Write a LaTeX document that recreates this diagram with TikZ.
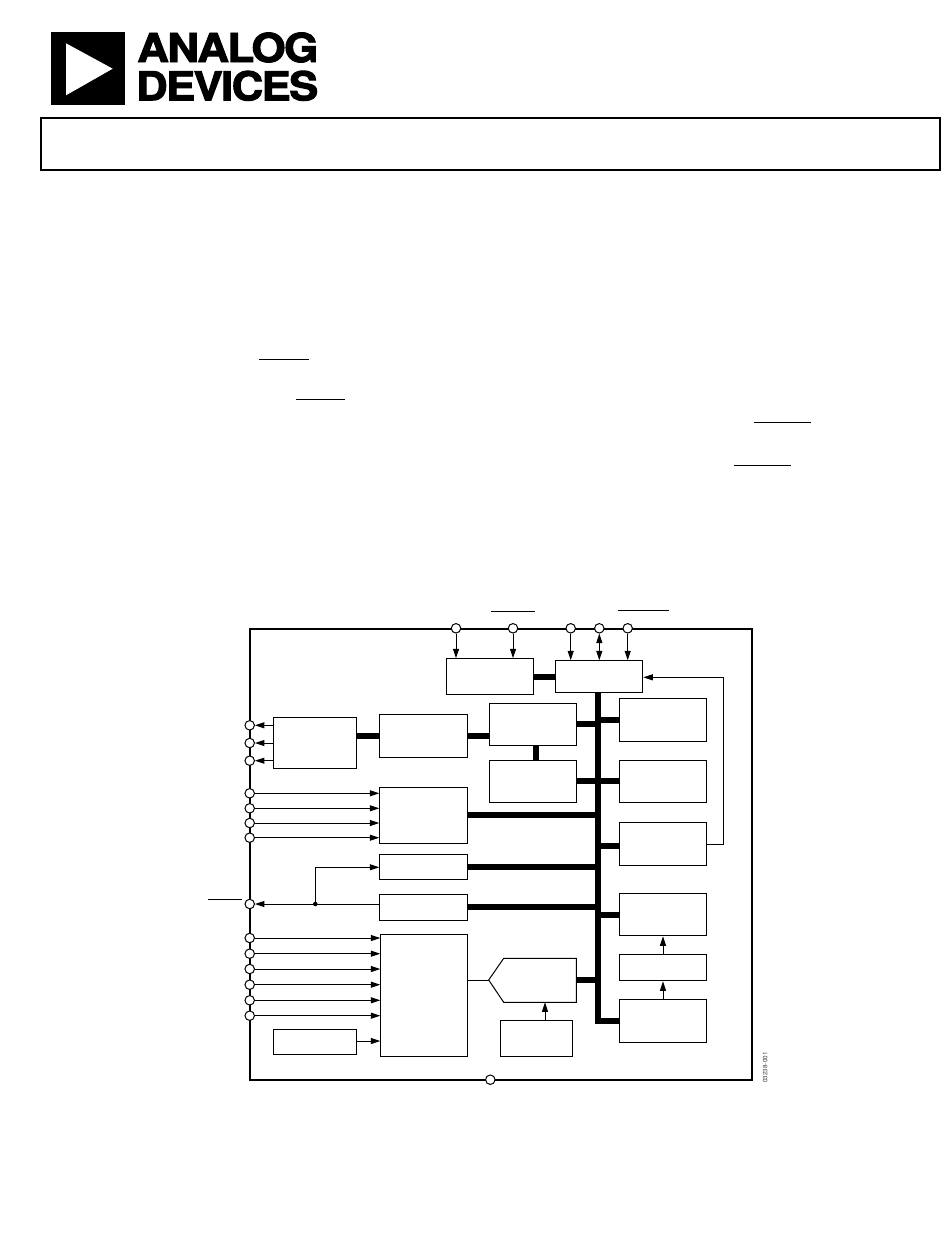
\documentclass[tikz,border=0pt]{standalone}
\usepackage{fontspec}
\setmainfont{TeX Gyre Heros}
\newfontfamily\logofont{TeX Gyre Heros}[BoldFeatures={FakeBold=2.4,LetterSpace=-3.5}]
\usetikzlibrary{arrows.meta}
\tikzset{
  x=1pt,y=-1pt,
  blk/.style={draw=black,line width=1pt,fill=white},
  bus/.style={draw=black,line width=6pt},
  frame/.style={draw=black,line width=2pt},
  sig/.style={draw=black,line width=1pt,-{Triangle[length=9.5pt,width=6pt]}},
  sigtwo/.style={draw=black,line width=1pt,{Triangle[length=9.5pt,width=6pt]}-{Triangle[length=9.5pt,width=6pt]}},
  plain/.style={draw=black,line width=1pt},
  pin/.style={circle,draw=black,line width=1pt,fill=white,minimum size=9.5pt,inner sep=0pt},
  bar/.style={draw=black,line width=1.1pt},
  logotext/.style={anchor=base west,inner sep=0pt,font=\fontsize{40}{40}\logofont\bfseries},
  rect/.style={rectangle,blk,inner sep=0pt,anchor=north west},
}
\newcommand{\blockat}[5]{\node[rect,minimum width=#4-#2,minimum height=#5-#3] (#1) at (#2,#3) {};}
\begin{document}
\begin{tikzpicture}
\useasboundingbox (0,0) rectangle (950,1254);
\fill[white] (0,0) rectangle (950,1254);
% logo
\fill[black] (50.7,31.7) rectangle (125,105);
\fill[white] (66,43.3) -- (112.7,68.7) -- (66,95.3) -- cycle;
\node[logotext] (lgA) at (137,62) {\resizebox{181pt}{29.5pt}{ANALOG}};
\node[logotext] (lgD) at (136,100.3) {\resizebox{182pt}{29.5pt}{DEVICES}};
% title frame
\draw[frame] (41,117.7) rectangle (940,170);
% overlines
\draw[bar] (259,359.3) -- (309,359.3);
\draw[bar] (295.7,399.3) -- (345.3,399.3);
\draw[bar] (754.3,422.3) -- (811,422.3);
\draw[bar] (734,465.3) -- (790.7,465.3);
\draw[bar] (491,611.3) -- (535,611.3);
\draw[bar] (618,610.3) -- (669.3,610.3);
\draw[bar] (208.3,899.3) -- (241.7,899.3);
% chip outline
\draw[frame] (250,629) rectangle (752,1079.7);
% thick buses under the boxes
\draw[bus] (598,690) -- (598,1020.7) -- (620,1020.7);
% blocks
\blockat{drv}{273.3}{717.3}{356.3}{768.3}
\blockat{tbl}{379.3}{714.3}{467.3}{757.3}
\blockat{muxa}{379.3}{787.3}{467.3}{843.3}
\blockat{regd}{379.3}{854.3}{467.3}{879.3}
\blockat{rege}{379.3}{894.3}{467.3}{920.3}
\blockat{muxf}{380.3}{934.3}{467.3}{1056.3}
\blockat{refg}{273.3}{1029.3}{356.3}{1054.3}
\blockat{toph}{446.3}{658.3}{533.3}{694.3}
\blockat{topi}{555.3}{660.3}{642.3}{692.3}
\blockat{blj}{489.3}{703.3}{576.3}{745.3}
\blockat{blk}{489.3}{760.3}{576.3}{802.3}
\blockat{ril}{619.3}{698.3}{706.3}{741.3}
\blockat{rim}{619.3}{760.3}{706.3}{802.3}
\blockat{rin}{619.3}{822.3}{706.3}{865.3}
\blockat{rio}{619.3}{893.3}{706.3}{935.3}
\blockat{rip}{619.3}{954.3}{706.3}{980.3}
\blockat{riq}{619.3}{999.3}{706.3}{1042.3}
\blockat{refs}{500.3}{1020.3}{572.3}{1056.3}
\path[blk] (488.7,980) -- (503.7,958.3) -- (576.3,958.3) -- (576.3,1002.3) -- (503.7,1002.3) -- cycle;
\coordinate (adcL) at (488.7,980);
\coordinate (adcB) at (545,1002.3);
\coordinate (adcR) at (576.3,979.7);
% pins
\foreach \n/\x/\y in {pa/456/628.3,pb/513/628.3,pc/570.7/628.3,pd/599.3/628.3,pe/627.7/628.3,
  la/249.7/725.3,lb/249.7/743,lc/249.7/760.7,
  ld/249.7/793.3,le/249.7/808.3,lf/249.7/823,lg/249.7/837.7,
  lh/249.7/904,
  li/249.7/938,lj/249.7/953.7,lk/249.7/969,ll/249.7/984.7,lm/249.7/1000.3,ln/249.7/1015.7,
  bt/490.3/1079.7}
  {\node[pin] (\n) at (\x,\y) {};}
% thick links
\draw[bus] (drv.east |- 0,735.7) -- (tbl.west |- 0,735.7);
\draw[bus] (tbl.east |- 0,735.7) -- (blj.west |- 0,735.7);
\draw[bus] (toph.east |- 0,677) -- (topi.west |- 0,677);
\draw[bus] (536,745.3) -- (536,760.3);
\draw[bus] (blj.east |- 0,724) -- (598,724);
\draw[bus] (598,720) -- (ril.west |- 0,720);
\draw[bus] (blk.east |- 0,781) -- (rim.west |- 0,781);
\draw[bus] (muxa.east |- 0,815) -- (598,815);
\draw[bus] (598,846) -- (rin.west |- 0,846);
\draw[bus] (regd.east |- 0,866.7) -- (598,866.7);
\draw[bus] (rege.east |- 0,907) -- (598,907);
\draw[bus] (598,915) -- (rio.west |- 0,915);
\draw[bus] (adcR) -- (598,979.7);
% thin connectors
\draw[sig] (pa) -- (pa |- toph.north);
\draw[sig] (pb) -- (pb |- toph.north);
\draw[sig] (pc) -- (pc |- topi.north);
\draw[sigtwo] (pd) -- (pd |- topi.north);
\draw[sig] (pe) -- (pe |- topi.north);
\draw[sig] (rin.east |- 0,844.3) -- (723.3,844.3) -- (723.3,677.3) -- (topi.east |- 0,677.3);
\draw[sig] (drv.west |- la) -- (la);
\draw[sig] (drv.west |- lb) -- (lb);
\draw[sig] (drv.west |- lc) -- (lc);
\foreach \p in {ld,le,lf,lg} {\draw[sig] (\p) -- (muxa.west |- \p);}
\foreach \p in {li,lj,lk,ll,lm,ln} {\draw[sig] (\p) -- (muxf.west |- \p);}
\draw[sig] (rege.west |- lh) -- (lh);
\coordinate (jn) at (315.3,904);
\fill[black] (jn) circle (2.3pt);
\draw[sig] (jn) -- (315.3,867.3) -- (regd.west |- 0,867.3);
\draw[sig] (refg.east |- 0,1041) -- (muxf.west |- 0,1041);
\draw[plain] (muxf.east |- adcL) -- (adcL);
\draw[sig] (refs.north -| adcB) -- (adcB);
\draw[sig] (riq.north -| 663,0) -- (rip.south -| 663,0);
\draw[sig] (rip.north -| 663,0) -- (rio.south -| 663,0);
% figure number
\node[rotate=90,inner sep=0pt,text=black!75,font=\fontsize{6.3}{6.3}\selectfont] (fignum) at (765.3,1067.5) {03238-001};
\end{tikzpicture}
\end{document}
